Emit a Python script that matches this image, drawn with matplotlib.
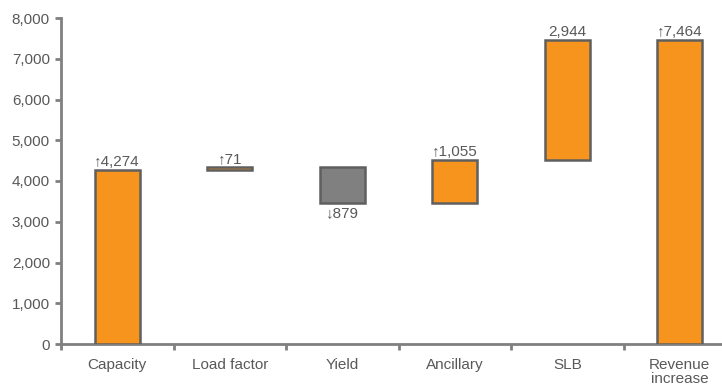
import matplotlib.pyplot as plt
import numpy as np

plt.rcParams['font.family'] = ['Liberation Sans', 'DejaVu Sans']

# Datos del puente de ingresos
categorias = ['Capacity', 'Load factor', 'Yield', 'Ancillary', 'SLB', 'Revenue\nincrease']
cambios = [4274, 71, -879, 1055, 2944]
total = 7464
etiquetas = ['\u21914,274', '\u219171', '\u2193879', '\u21911,055', '2,944', '\u21917,464']

naranja = '#F7941D'
gris = '#808080'
borde = '#5F5F5F'
texto = '#595959'

# Bases y alturas de cada barra (cascada)
acumulado = np.concatenate([[0], np.cumsum(cambios)])
bases = list(np.minimum(acumulado[:-1], acumulado[1:])) + [0]
alturas = list(np.abs(cambios)) + [total]
colores = [gris if c < 0 else naranja for c in cambios] + [naranja]

fig = plt.figure(figsize=(7.22, 3.85), dpi=100)
ax = fig.add_axes([61/722, 41/385, 675/722, 326/385])

x = np.arange(len(categorias))
ax.bar(x, alturas, bottom=bases, width=0.4, color=colores,
       edgecolor=borde, linewidth=1.8, zorder=3)

# Etiquetas de valor
for i, etq in enumerate(etiquetas):
    if i < len(cambios) and cambios[i] < 0:
        ax.text(x[i], bases[i] - 80, etq, ha='center', va='top',
                fontsize=11, color=texto)
    else:
        ax.text(x[i], bases[i] + alturas[i] + 20, etq, ha='center',
                va='bottom', fontsize=11, color=texto)

ax.set_xlim(-0.5, len(categorias) - 0.5)
ax.set_ylim(0, 8000)
ax.set_yticks(np.arange(0, 8001, 1000))
ax.set_yticklabels(['{:,}'.format(v) for v in range(0, 8001, 1000)])

# Ticks del eje x en los limites de cada categoria
ax.set_xticks(np.arange(-0.5, len(categorias), 1))
ax.set_xticklabels([])
ax.set_xticks(x, minor=True)
ax.set_xticklabels(categorias, minor=True, linespacing=1.0)
ax.tick_params(axis='x', which='minor', length=0, pad=10)
ax.tick_params(axis='x', which='major', length=4, width=2, color=gris)
ax.tick_params(axis='y', length=4, width=2, color=gris, pad=4)
ax.tick_params(which='both', labelsize=11, labelcolor=texto)

for lado in ['top', 'right']:
    ax.spines[lado].set_visible(False)
for lado in ['left', 'bottom']:
    ax.spines[lado].set_color(gris)
    ax.spines[lado].set_linewidth(2)

plt.savefig('out.png', dpi=100)
